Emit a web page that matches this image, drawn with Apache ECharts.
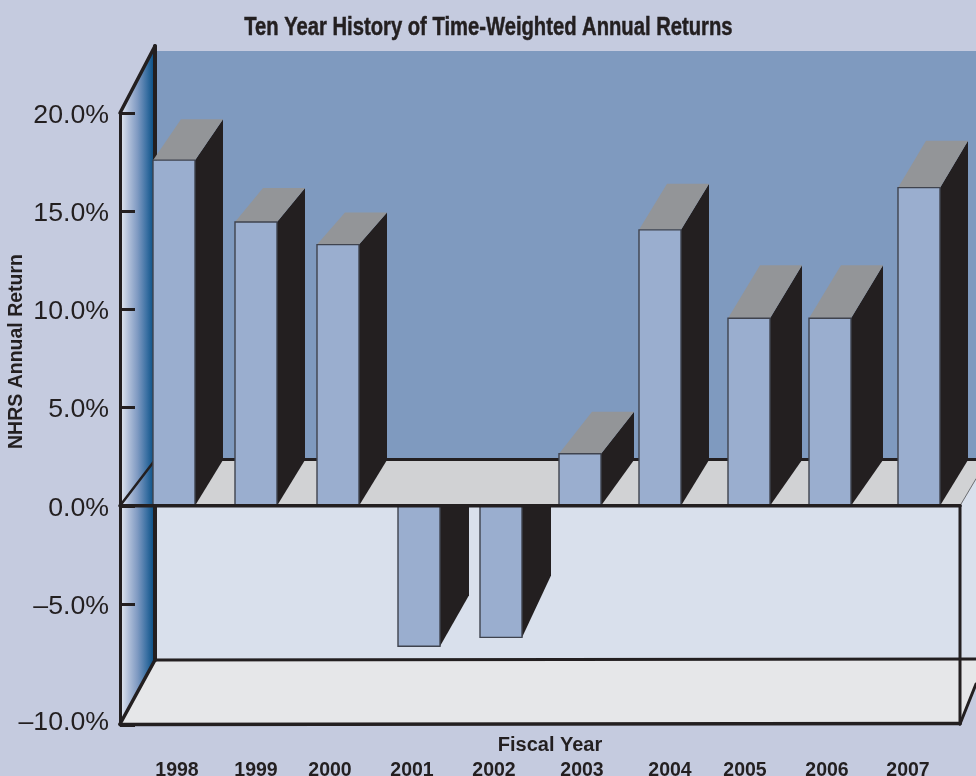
<!DOCTYPE html>
<html><head><meta charset="utf-8">
<style>html,body{margin:0;padding:0;background:#c5cbdf}#c{width:976px;height:776px}</style>
<script src="https://cdn.jsdelivr.net/npm/echarts@6/dist/echarts.min.js"></script>
</head><body><div id="c"></div>
<script>
// ---- data ----
const years = ['1998','1999','2000','2001','2002','2003','2004','2005','2006','2007'];
const returns = [17.6,14.45,13.3,-7.15,-6.7,2.65,14.05,9.55,9.55,16.2];
const upperTicks = {min:-5,max:20,interval:5};
const lowerTicks = {min:-10,max:-5,interval:5};
const titleText = 'Ten Year History of Time-Weighted Annual Returns';

// ---- layout (not data) ----
const gridTop=113, gridSplit=604, gridBottom=725, gridLeft=120, gridRight=960;
const barWidth=42;
const barNudge=[12,10,8,5,3,-2,-6,-1,-4,1];
const labelNudge=[15,10,0,-2,-4,0,4,-5,-7,-10];
const depthX=[28,28,28,29,29,33,28,32,32,28];
const depthY=[41,34,32,51,62,42,46,53,53,47];
const backX=155, backFloorY=460, backBottomY=660, backTopY=51, cornerTopY=46, edgeX=976;
const ink='#231f20', bg='#c5cbdf', wallC='#7f9abf', floorC='#d1d2d4', panelC='#d9e0ec', baseC='#e6e7e9';
const frontC='#9aaecf', topC='#939598', fontF='"Liberation Sans",Arial,sans-serif';

const pct=v=>(v<0?'\u2013':'')+Math.abs(v).toFixed(1)+'%';
const poly=(pts,fill,stroke,lw)=>({type:'polygon',shape:{points:pts},style:{fill:fill,stroke:stroke||null,lineWidth:lw||0}});
const seg=(a,b,w,c)=>({type:'line',shape:{x1:a[0],y1:a[1],x2:b[0],y2:b[1]},style:{stroke:c||ink,lineWidth:w,lineCap:'round'}});

function renderFrame(params,api){
  const y0=gridTop+(upperTicks.max/(upperTicks.max-upperTicks.min))*(gridSplit-gridTop);
  const yB=gridBottom-1;
  const wallFill=new echarts.graphic.LinearGradient(0,0,1,0,[
    {offset:0,color:'#e6ebf3'},{offset:.25,color:'#b0bfd9'},{offset:.5,color:'#7f9ac2'},{offset:.75,color:'#3f73a5'},{offset:1,color:'#004a80'}]);
  return {type:'group',children:[
    poly([[backX,backTopY],[edgeX,backTopY],[edgeX,backFloorY],[backX,backFloorY]],wallC),
    poly([[backX,y0],[gridRight,y0],[edgeX,y0-27],[edgeX,backBottomY],[backX,backBottomY]],panelC),
    poly([[backX,backBottomY],[edgeX,backBottomY-1],[edgeX,yB-40],[gridRight,yB],[gridLeft,yB]],baseC),
    poly([[gridLeft,y0],[backX,backFloorY],[edgeX,backFloorY],[edgeX,y0-27],[gridRight,y0]],floorC),
    poly([[gridLeft,gridTop],[backX,cornerTopY],[backX,backBottomY],[gridLeft,yB]],wallFill),
    seg([backX,backTopY-5],[backX,backBottomY],4),
    seg([gridLeft,gridTop],[backX,cornerTopY],3.5),
    seg([gridLeft,yB],[backX,backBottomY],3.5),
    seg([gridLeft,y0],[backX,backFloorY],2.5),
    seg([backX,backFloorY-0.5],[edgeX,backFloorY-0.5],3),
    seg([backX,backBottomY],[edgeX,backBottomY-1],3),
    seg([gridRight,y0],[edgeX,y0-27],1,'#6d6e71'),
    seg([gridRight,y0],[gridRight,yB],3),
    seg([gridRight,yB],[edgeX,yB-40],3),
    seg([gridLeft,yB+0.5],[gridRight,yB-0.5],3.5)
  ]};
}
function renderBar(params,api){
  const i=api.value(0), v=api.value(1);
  const cx=api.coord([i,0])[0]+barNudge[i];
  const yZero=api.coord([i,0])[1], yVal=api.coord([i,v])[1];
  const l=cx-barWidth/2, r=cx+barWidth/2, dx=depthX[i], dy=depthY[i];
  const kids=[];
  if(v>=0){
    kids.push(poly([[r,yVal],[r+dx,yVal-dy],[r+dx,backFloorY],[r,yZero]],ink));
    kids.push(poly([[l,yVal],[r,yVal],[r+dx,yVal-dy],[l+dx,yVal-dy]],topC));
  }else{
    kids.push(poly([[r,yZero],[r+dx,yZero],[r+dx,yVal-dy],[r,yVal]],ink));
  }
  kids.push(poly([[l,Math.min(yVal,yZero)],[r,Math.min(yVal,yZero)],[r,Math.max(yVal,yZero)],[l,Math.max(yVal,yZero)]],frontC,'#3f434e',1.4));
  return {type:'group',children:kids};
}
function renderRim(params,api){
  const y=api.coord([0,0])[1];
  return seg([gridLeft,y],[gridRight,y],3.5);
}

const rich={};
labelNudge.forEach((n,i)=>{rich['n'+i]={fontFamily:fontF,fontWeight:'bold',fontSize:19.5,color:ink,padding:[0,n<0?-2*n:0,0,n>0?2*n:0]};});

const chart=echarts.init(document.getElementById('c'),null,{renderer:'canvas'});
const axisLine={show:true,onZero:false,lineStyle:{color:ink,width:3}};
const axisTick={show:true,inside:true,length:15,lineStyle:{color:ink,width:3}};
const valStyle={color:ink,fontFamily:fontF,fontSize:26.7};
chart.setOption({
  animation:false,
  backgroundColor:bg,
  graphic:[{type:'text',left:244,top:15,z:20,scaleX:.777,originX:0,style:{text:titleText,fontFamily:fontF,fontWeight:'bold',fontSize:26,fill:ink,stroke:ink,lineWidth:.5}}],
  grid:[
    {left:gridLeft,width:gridRight-gridLeft,top:gridTop,height:gridSplit-gridTop,containLabel:false,outerBoundsMode:'none'},
    {left:gridLeft,width:gridRight-gridLeft,top:gridSplit,height:gridBottom-gridSplit,containLabel:false,outerBoundsMode:'none'}
  ],
  xAxis:[
    {type:'category',gridIndex:0,data:years,show:false},
    {type:'category',gridIndex:1,data:years,position:'bottom',
      axisLine:{show:false},axisTick:{show:false},
      name:'Fiscal Year',nameLocation:'middle',nameGap:10,nameMoveOverlap:false,
      nameTextStyle:{fontFamily:fontF,fontWeight:'bold',fontSize:20,color:ink,padding:[0,0,0,20]},
      axisLabel:{interval:0,margin:36,hideOverlap:false,rich:rich,formatter:(v,i)=>'{n'+i+'|'+v+'}'}}
  ],
  yAxis:[
    Object.assign({type:'value',gridIndex:0,z:6,splitLine:{show:false},axisLine,axisTick,
      axisLabel:{margin:11,formatter:v=>'{a|'+pct(v)+'}',rich:{a:Object.assign({padding:[5,0,0,0]},valStyle)}},
      name:'NHRS Annual Return',nameLocation:'middle',nameGap:93,nameRotate:90,nameMoveOverlap:false,
      nameTextStyle:{fontFamily:fontF,fontWeight:'bold',fontSize:19.5,color:ink,padding:[0,0,0,14]}},upperTicks),
    Object.assign({type:'value',gridIndex:1,z:6,splitLine:{show:false},axisLine,axisTick,
      axisLabel:{margin:11,formatter:v=>v===lowerTicks.max?'':'{a|'+pct(v)+'}',rich:{a:Object.assign({padding:[0,0,4,0]},valStyle)}}},lowerTicks)
  ],
  series:[
    {type:'custom',name:'frame',xAxisIndex:1,yAxisIndex:1,z:1,silent:true,clip:false,data:[[0,-10]],renderItem:renderFrame},
    {type:'custom',name:'NHRS Annual Return',xAxisIndex:0,yAxisIndex:0,z:3,clip:false,
      data:returns.map((v,i)=>[i,v]),encode:{x:0,y:1},renderItem:renderBar},
    {type:'custom',name:'rim',xAxisIndex:0,yAxisIndex:0,z:4,silent:true,clip:false,data:[[0,0]],renderItem:renderRim}
  ]
});
</script></body></html>
